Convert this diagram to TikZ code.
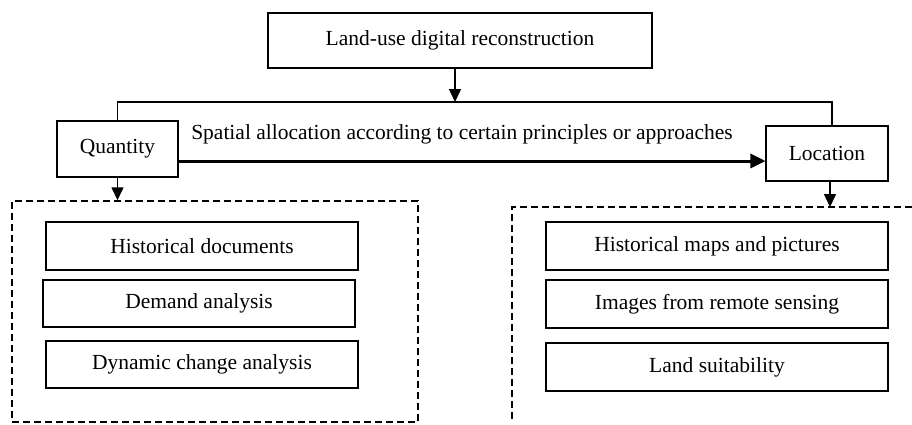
\documentclass[tikz,border=0pt]{standalone}
\usepackage{fontspec}
\setmainfont{Liberation Serif}
\usepackage{tikz}
\usetikzlibrary{arrows.meta, positioning}

\tikzset{
  box/.style={draw, line width=1.1pt, inner sep=0pt, align=center},
  frame/.style={draw, line width=1.5pt, dash pattern=on 7pt off 4pt},
  link/.style={line width=1.5pt, -{Triangle[length=13pt,width=12pt]}},
}

\begin{document}
\begin{tikzpicture}[x=1pt, y=-1pt, font=\fontsize{21.5}{24}\selectfont]
  \useasboundingbox (0,0) rectangle (912,424);

  % top and the two branches
  \node[box, minimum width=384pt, minimum height=55pt] (recon) at (460,40.5) {Land-use digital reconstruction};
  \node[box, minimum width=121pt, minimum height=56pt] (qty) at (117.5,149) {Quantity};
  \node[box, minimum width=122pt, minimum height=55pt] (loc) at (827,153.5) {Location};
  \coordinate (split) at (455,102);

  \draw[link] (recon.south -| split) -- (split);
  \draw[line width=1.1pt] (qty.north) |- (split) -| ([xshift=5pt]loc.north);

  % spatial allocation
  \draw[line width=3pt, -{Triangle[length=15pt,width=14pt]}] (qty.east |- 0,161) -- (loc.west |- 0,161);
  \node (alloc) at (462,134) {Spatial allocation according to certain principles or approaches};

  % quantity sources
  \node[frame, minimum width=406pt, minimum height=221pt] (qframe) at (215,311.5) {};
  \node[box, minimum width=312pt, minimum height=48pt] (hdoc) at (202,246) {Historical documents};
  \node[box, minimum width=312pt, minimum height=47pt] (demand) at (199,303.5) {Demand analysis};
  \node[box, minimum width=312pt, minimum height=47pt] (dyn) at (202,364.5) {Dynamic change analysis};
  \draw[link] (qty.south) -- (qty.south |- qframe.north);

  % location sources
  \coordinate (lframe) at (830,207);
  \draw[frame] (912,207) -- (512,207) -- (512,420);
  \node[box, minimum width=342pt, minimum height=48pt] (hmap) at (717,246) {Historical maps and pictures};
  \node[box, minimum width=342pt, minimum height=48pt] (rs) at (717,304) {Images from remote sensing};
  \node[box, minimum width=342pt, minimum height=48pt] (suit) at (717,367) {Land suitability};
  \draw[link] (loc.south -| lframe) -- (lframe);
\end{tikzpicture}
\end{document}
